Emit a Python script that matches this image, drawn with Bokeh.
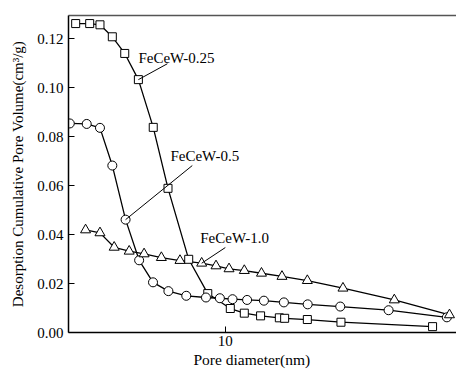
from bokeh.plotting import figure
from bokeh.models import FixedTicker, LogAxis, PrintfTickFormatter, Label, Title
from bokeh.embed import file_html
from bokeh.resources import INLINE

# FeCeW-0.25 (squares)
d025 = [3.17, 3.53, 3.82, 4.20, 4.62, 5.13, 5.75, 6.44, 7.55, 8.74, 10.39, 11.57,
        13.11, 15.14, 15.77, 18.77, 24.30, 49.1]
v025 = [0.1262, 0.1262, 0.1257, 0.1208, 0.1140, 0.1033, 0.0838, 0.0589, 0.0299,
        0.0159, 0.0098, 0.0079, 0.0068, 0.0060, 0.0058, 0.0053, 0.0042, 0.0024]
# FeCeW-0.5 (circles)
d05 = [3.03, 3.45, 3.82, 4.20, 4.65, 5.16, 5.74, 6.46, 7.41, 8.62, 9.59, 10.57,
       11.82, 13.45, 15.68, 18.82, 24.17, 35.03, 54.8]
v05 = [0.0854, 0.0852, 0.0836, 0.0682, 0.0461, 0.0295, 0.0205, 0.0169, 0.0150,
       0.0143, 0.0140, 0.0136, 0.0133, 0.0130, 0.0123, 0.0115, 0.0106, 0.0091, 0.0062]
# FeCeW-1.0 (triangles)
d10 = [3.42, 3.82, 4.26, 4.78, 5.36, 6.12, 7.06, 8.34, 9.31, 10.29, 11.57, 13.20,
       15.45, 18.77, 24.68, 36.60, 55.9]
v10 = [0.0419, 0.0407, 0.0348, 0.0332, 0.0321, 0.0306, 0.0294, 0.0283, 0.0272,
       0.0260, 0.0253, 0.0242, 0.0229, 0.0212, 0.0181, 0.0133, 0.0072]

y_ticks = [0.00, 0.02, 0.04, 0.06, 0.08, 0.10, 0.12]
x_ticks = [10]
x_title = "Pore diameter(nm)"
y_title = "Desorption Cumulative Pore Volume(cm³/g)"

# annotation labels: text, label position, leader end, index of leader start point
labels = ["FeCeW-0.25", "FeCeW-0.5", "FeCeW-1.0"]
label_x = [5.13, 6.56, 8.25]
label_y = [0.1120, 0.0722, 0.0388]
lead_end_x = [6.41, 7.76, 10.0]
lead_end_y = [0.1098, 0.0682, 0.0347]
lead_idx = [5, 4, 7]

FONT = "'Liberation Serif', 'Times New Roman', serif"

p = figure(width=456, height=369, x_axis_type="log", x_range=(3.0, 59.0),
           y_range=(0, 0.1295), output_backend="svg", toolbar_location=None,
           min_border_left=68, min_border_right=0, min_border_top=15,
           min_border_bottom=37)
p.outline_line_color = None
p.grid.visible = False
p.background_fill_color = "white"

xa = p.xaxis[0]
xa.ticker = FixedTicker(ticks=x_ticks, minor_ticks=[])
xa.major_label_overrides = {10: "10"}
xa.major_tick_in = 6
xa.major_tick_out = 0
xa.minor_tick_line_color = None
xa.major_label_standoff = 3
ya = p.yaxis[0]
ya.ticker = FixedTicker(ticks=y_ticks, minor_ticks=[])
ya.formatter = PrintfTickFormatter(format="%.2f")
ya.major_tick_in = 6
ya.major_tick_out = 0
ya.minor_tick_line_color = None
ya.axis_label = y_title
ya.major_label_standoff = 5
ya.axis_label_standoff = 8
for ax in (xa, ya):
    ax.axis_line_color = "black"
    ax.axis_line_width = 1.5
    ax.major_tick_line_color = "black"
    ax.major_tick_line_width = 1
    ax.major_label_text_font = FONT
    ax.major_label_text_font_size = "15px"
    ax.major_label_text_color = "black"
    ax.axis_label_text_font = FONT
    ax.axis_label_text_font_size = "15px"
    ax.axis_label_text_font_style = "normal"
    ax.axis_label_text_color = "black"

top = LogAxis(ticker=FixedTicker(ticks=[], minor_ticks=[]), axis_line_color="#555555",
              axis_line_width=1.5, major_tick_line_color=None, minor_tick_line_color=None,
              major_label_text_font_size="0px", major_label_standoff=0)
p.add_layout(top, "above")

# x-axis title as a bottom title, shifted left of the frame centre as in the reference
p.add_layout(Title(text=x_title, align="left", offset=125, standoff=0,
                   text_font=FONT, text_font_size="15.5px", text_font_style="normal",
                   text_color="black"), "below")

series = [(d025, v025, "square", 8), (d05, v05, "circle", 9), (d10, v10, "triangle", 10)]
for xs, ys, m, s in series:
    p.line(xs, ys, line_color="black", line_width=1.3)
for xs, ys, m, s in series:
    p.scatter(xs, ys, marker=m, size=s, fill_color="white", line_color="black", line_width=1)

srcs = [(d025, v025), (d05, v05), (d10, v10)]
x0 = [srcs[i][0][lead_idx[i]] for i in range(3)]
y0 = [srcs[i][1][lead_idx[i]] for i in range(3)]
p.segment(x0=x0, y0=y0, x1=lead_end_x, y1=lead_end_y, line_color="black", line_width=1)

for t, lx, ly in zip(labels, label_x, label_y):
    p.add_layout(Label(x=lx, y=ly, text=t, text_font=FONT, text_font_size="15px",
                       text_baseline="middle", text_align="left", text_color="black"))

open("out.html", "w").write(file_html(p, INLINE))
